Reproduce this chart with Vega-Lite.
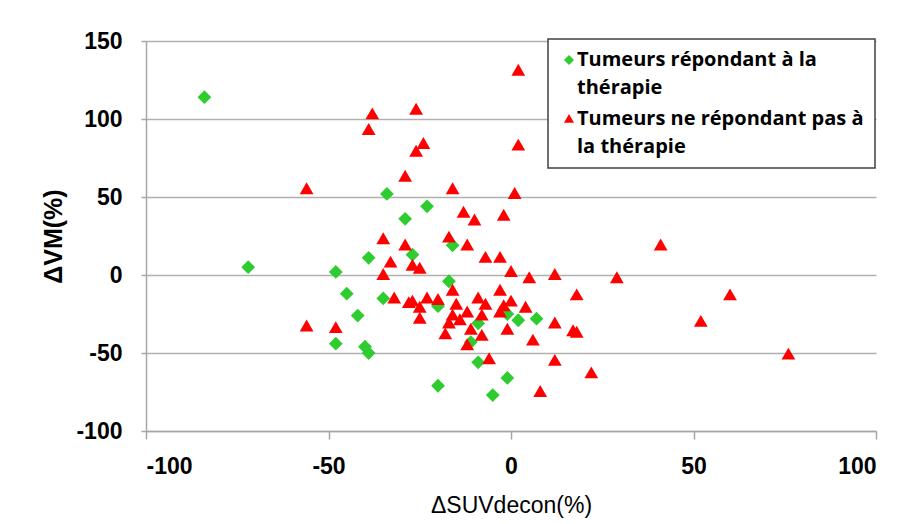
{
  "$schema": "https://vega.github.io/schema/vega-lite/v6.json",
  "width": 730,
  "height": 390,
  "autosize": {"type": "none"},
  "padding": {"left": 146, "top": 41, "right": 23, "bottom": 93},
  "background": "white",
  "config": {
    "view": {"stroke": null},
    "style": {"guide-label": {"lineHeight": 28}},
    "axis": {
      "labelFont": "Liberation Sans",
      "labelFontWeight": "bold",
      "labelFontSize": 23,
      "labelColor": "#000000",
      "titleColor": "#000000",
      "domainColor": "#a6a6a6",
      "domainWidth": 1.5,
      "tickColor": "#a6a6a6",
      "tickWidth": 1.5,
      "gridColor": "#b0b0b0",
      "gridWidth": 1.5,
      "labelExpr": "replace(datum.label, '−', '-')"
    },
    "legend": {
      "orient": "none",
      "legendX": 402,
      "legendY": -2,
      "strokeColor": "#404040",
      "strokeWidth": 1.5,
      "fillColor": "white",
      "padding": 11,
      "labelFont": "Open Sans",
      "labelFontWeight": "bold",
      "labelFontSize": 20,
      "labelColor": "#000000",
      "labelLimit": 400,
      "labelBaseline": "middle",
      "labelOffset": -2,
      "rowPadding": 11,
      "symbolSize": 100,
      "symbolStrokeWidth": 0
    }
  },
  "data": {
    "values": [
      {"suv": -84, "vm": 114, "groupe": "Tumeurs répondant à la thérapie"},
      {"suv": -72, "vm": 5, "groupe": "Tumeurs répondant à la thérapie"},
      {"suv": -48, "vm": 2, "groupe": "Tumeurs répondant à la thérapie"},
      {"suv": -45, "vm": -12, "groupe": "Tumeurs répondant à la thérapie"},
      {"suv": -42, "vm": -26, "groupe": "Tumeurs répondant à la thérapie"},
      {"suv": -48, "vm": -44, "groupe": "Tumeurs répondant à la thérapie"},
      {"suv": -40, "vm": -46, "groupe": "Tumeurs répondant à la thérapie"},
      {"suv": -39, "vm": -50, "groupe": "Tumeurs répondant à la thérapie"},
      {"suv": -39, "vm": 11, "groupe": "Tumeurs répondant à la thérapie"},
      {"suv": -34, "vm": 52, "groupe": "Tumeurs répondant à la thérapie"},
      {"suv": -35, "vm": -15, "groupe": "Tumeurs répondant à la thérapie"},
      {"suv": -29, "vm": 36, "groupe": "Tumeurs répondant à la thérapie"},
      {"suv": -23, "vm": 44, "groupe": "Tumeurs répondant à la thérapie"},
      {"suv": -27, "vm": 13, "groupe": "Tumeurs répondant à la thérapie"},
      {"suv": -17, "vm": -4, "groupe": "Tumeurs répondant à la thérapie"},
      {"suv": -16, "vm": 19, "groupe": "Tumeurs répondant à la thérapie"},
      {"suv": -20, "vm": -20, "groupe": "Tumeurs répondant à la thérapie"},
      {"suv": -20, "vm": -71, "groupe": "Tumeurs répondant à la thérapie"},
      {"suv": -9, "vm": -31, "groupe": "Tumeurs répondant à la thérapie"},
      {"suv": -9, "vm": -56, "groupe": "Tumeurs répondant à la thérapie"},
      {"suv": -5, "vm": -77, "groupe": "Tumeurs répondant à la thérapie"},
      {"suv": -1, "vm": -66, "groupe": "Tumeurs répondant à la thérapie"},
      {"suv": -1, "vm": -25, "groupe": "Tumeurs répondant à la thérapie"},
      {"suv": 2, "vm": -29, "groupe": "Tumeurs répondant à la thérapie"},
      {"suv": 7, "vm": -28, "groupe": "Tumeurs répondant à la thérapie"},
      {"suv": -11, "vm": -43, "groupe": "Tumeurs répondant à la thérapie"},
      {"suv": 2, "vm": 131, "groupe": "Tumeurs ne répondant pas à la thérapie"},
      {"suv": -38, "vm": 103, "groupe": "Tumeurs ne répondant pas à la thérapie"},
      {"suv": -26, "vm": 106, "groupe": "Tumeurs ne répondant pas à la thérapie"},
      {"suv": -39, "vm": 93, "groupe": "Tumeurs ne répondant pas à la thérapie"},
      {"suv": -24, "vm": 84, "groupe": "Tumeurs ne répondant pas à la thérapie"},
      {"suv": -26, "vm": 79, "groupe": "Tumeurs ne répondant pas à la thérapie"},
      {"suv": 2, "vm": 83, "groupe": "Tumeurs ne répondant pas à la thérapie"},
      {"suv": -29, "vm": 63, "groupe": "Tumeurs ne répondant pas à la thérapie"},
      {"suv": -56, "vm": 55, "groupe": "Tumeurs ne répondant pas à la thérapie"},
      {"suv": -16, "vm": 55, "groupe": "Tumeurs ne répondant pas à la thérapie"},
      {"suv": 1, "vm": 52, "groupe": "Tumeurs ne répondant pas à la thérapie"},
      {"suv": -13, "vm": 40, "groupe": "Tumeurs ne répondant pas à la thérapie"},
      {"suv": -10, "vm": 35, "groupe": "Tumeurs ne répondant pas à la thérapie"},
      {"suv": -2, "vm": 38, "groupe": "Tumeurs ne répondant pas à la thérapie"},
      {"suv": -35, "vm": 23, "groupe": "Tumeurs ne répondant pas à la thérapie"},
      {"suv": -29, "vm": 19, "groupe": "Tumeurs ne répondant pas à la thérapie"},
      {"suv": -17, "vm": 24, "groupe": "Tumeurs ne répondant pas à la thérapie"},
      {"suv": -12, "vm": 19, "groupe": "Tumeurs ne répondant pas à la thérapie"},
      {"suv": 41, "vm": 19, "groupe": "Tumeurs ne répondant pas à la thérapie"},
      {"suv": -33, "vm": 8, "groupe": "Tumeurs ne répondant pas à la thérapie"},
      {"suv": -27, "vm": 6, "groupe": "Tumeurs ne répondant pas à la thérapie"},
      {"suv": -25, "vm": 4, "groupe": "Tumeurs ne répondant pas à la thérapie"},
      {"suv": -7, "vm": 11, "groupe": "Tumeurs ne répondant pas à la thérapie"},
      {"suv": -3, "vm": 11, "groupe": "Tumeurs ne répondant pas à la thérapie"},
      {"suv": 0, "vm": 2, "groupe": "Tumeurs ne répondant pas à la thérapie"},
      {"suv": -35, "vm": 0, "groupe": "Tumeurs ne répondant pas à la thérapie"},
      {"suv": 5, "vm": -2, "groupe": "Tumeurs ne répondant pas à la thérapie"},
      {"suv": 12, "vm": 0, "groupe": "Tumeurs ne répondant pas à la thérapie"},
      {"suv": 29, "vm": -2, "groupe": "Tumeurs ne répondant pas à la thérapie"},
      {"suv": -32, "vm": -15, "groupe": "Tumeurs ne répondant pas à la thérapie"},
      {"suv": -28, "vm": -18, "groupe": "Tumeurs ne répondant pas à la thérapie"},
      {"suv": -27, "vm": -17, "groupe": "Tumeurs ne répondant pas à la thérapie"},
      {"suv": -25, "vm": -21, "groupe": "Tumeurs ne répondant pas à la thérapie"},
      {"suv": -25, "vm": -28, "groupe": "Tumeurs ne répondant pas à la thérapie"},
      {"suv": -23, "vm": -15, "groupe": "Tumeurs ne répondant pas à la thérapie"},
      {"suv": -20, "vm": -16, "groupe": "Tumeurs ne répondant pas à la thérapie"},
      {"suv": -16, "vm": -10, "groupe": "Tumeurs ne répondant pas à la thérapie"},
      {"suv": -15, "vm": -19, "groupe": "Tumeurs ne répondant pas à la thérapie"},
      {"suv": -16, "vm": -26, "groupe": "Tumeurs ne répondant pas à la thérapie"},
      {"suv": -14, "vm": -29, "groupe": "Tumeurs ne répondant pas à la thérapie"},
      {"suv": -18, "vm": -38, "groupe": "Tumeurs ne répondant pas à la thérapie"},
      {"suv": -17, "vm": -31, "groupe": "Tumeurs ne répondant pas à la thérapie"},
      {"suv": -12, "vm": -24, "groupe": "Tumeurs ne répondant pas à la thérapie"},
      {"suv": -11, "vm": -35, "groupe": "Tumeurs ne répondant pas à la thérapie"},
      {"suv": -12, "vm": -45, "groupe": "Tumeurs ne répondant pas à la thérapie"},
      {"suv": -9, "vm": -15, "groupe": "Tumeurs ne répondant pas à la thérapie"},
      {"suv": -7, "vm": -19, "groupe": "Tumeurs ne répondant pas à la thérapie"},
      {"suv": -8, "vm": -26, "groupe": "Tumeurs ne répondant pas à la thérapie"},
      {"suv": -8, "vm": -39, "groupe": "Tumeurs ne répondant pas à la thérapie"},
      {"suv": -3, "vm": -10, "groupe": "Tumeurs ne répondant pas à la thérapie"},
      {"suv": -2, "vm": -20, "groupe": "Tumeurs ne répondant pas à la thérapie"},
      {"suv": 0, "vm": -17, "groupe": "Tumeurs ne répondant pas à la thérapie"},
      {"suv": -3, "vm": -24, "groupe": "Tumeurs ne répondant pas à la thérapie"},
      {"suv": -1, "vm": -35, "groupe": "Tumeurs ne répondant pas à la thérapie"},
      {"suv": 4, "vm": -21, "groupe": "Tumeurs ne répondant pas à la thérapie"},
      {"suv": 18, "vm": -13, "groupe": "Tumeurs ne répondant pas à la thérapie"},
      {"suv": 60, "vm": -13, "groupe": "Tumeurs ne répondant pas à la thérapie"},
      {"suv": 12, "vm": -31, "groupe": "Tumeurs ne répondant pas à la thérapie"},
      {"suv": 17, "vm": -36, "groupe": "Tumeurs ne répondant pas à la thérapie"},
      {"suv": 18, "vm": -37, "groupe": "Tumeurs ne répondant pas à la thérapie"},
      {"suv": 52, "vm": -30, "groupe": "Tumeurs ne répondant pas à la thérapie"},
      {"suv": 6, "vm": -42, "groupe": "Tumeurs ne répondant pas à la thérapie"},
      {"suv": -6, "vm": -54, "groupe": "Tumeurs ne répondant pas à la thérapie"},
      {"suv": 12, "vm": -55, "groupe": "Tumeurs ne répondant pas à la thérapie"},
      {"suv": 22, "vm": -63, "groupe": "Tumeurs ne répondant pas à la thérapie"},
      {"suv": 8, "vm": -75, "groupe": "Tumeurs ne répondant pas à la thérapie"},
      {"suv": 76, "vm": -51, "groupe": "Tumeurs ne répondant pas à la thérapie"},
      {"suv": -56, "vm": -33, "groupe": "Tumeurs ne répondant pas à la thérapie"},
      {"suv": -48, "vm": -34, "groupe": "Tumeurs ne répondant pas à la thérapie"}
    ]
  },
  "mark": {"type": "point", "filled": true, "opacity": 1, "size": 190, "strokeWidth": 0},
  "encoding": {
    "x": {
      "field": "suv",
      "type": "quantitative",
      "scale": {"domain": [-100, 100], "nice": false, "zero": false},
      "axis": {
        "values": [-100, -50, 0, 50, 100],
        "grid": false,
        "tickSize": 8,
        "labelPadding": 16,
        "title": "ΔSUVdecon(%)",
        "titleFont": "Liberation Sans",
        "titleFontSize": 23,
        "titleFontWeight": "normal",
        "titlePadding": 16
      }
    },
    "y": {
      "field": "vm",
      "type": "quantitative",
      "scale": {"domain": [-100, 150], "nice": false, "zero": false},
      "axis": {
        "values": [-100, -50, 0, 50, 100, 150],
        "grid": true,
        "tickSize": 5,
        "labelPadding": 19,
        "title": "ΔVM(%)",
        "titleFont": "Liberation Sans",
        "titleFontSize": 25,
        "titleFontWeight": "bold",
        "titlePadding": 9
      }
    },
    "color": {
      "field": "groupe",
      "type": "nominal",
      "scale": {
        "domain": ["Tumeurs répondant à la thérapie", "Tumeurs ne répondant pas à la thérapie"],
        "range": ["#2ecc2e", "#ff0000"]
      },
      "legend": {
        "title": null,
        "labelExpr": "datum.label == 'Tumeurs répondant à la thérapie' ? ['Tumeurs répondant à la', 'thérapie'] : ['Tumeurs ne répondant pas à', 'la thérapie']"
      }
    },
    "shape": {
      "field": "groupe",
      "type": "nominal",
      "scale": {
        "domain": ["Tumeurs répondant à la thérapie", "Tumeurs ne répondant pas à la thérapie"],
        "range": ["diamond", "M0,-1L1,0.73L-1,0.73Z"]
      },
      "legend": null
    }
  }
}
